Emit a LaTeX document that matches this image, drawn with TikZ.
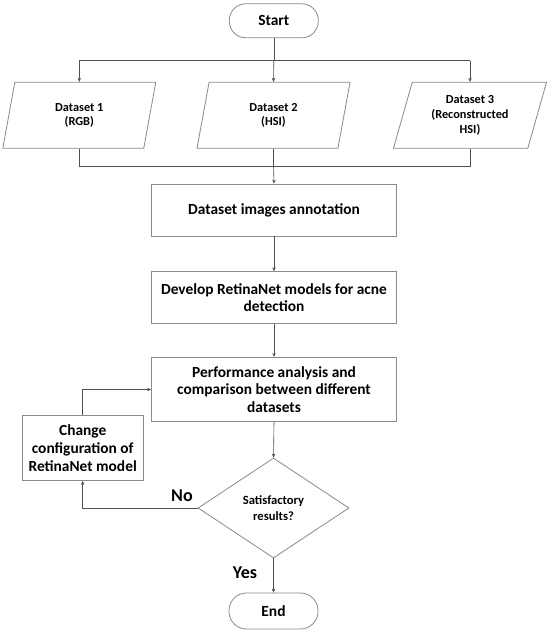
\documentclass[tikz,border=0pt]{standalone}
\usepackage{fontspec}
\setmainfont{Carlito}
\usetikzlibrary{shapes.geometric,arrows.meta}
\definecolor{boxline}{HTML}{8A8A8A}
\definecolor{conn}{HTML}{505050}
\tikzset{
  base/.style={draw=boxline,line width=0.8pt,align=center,inner sep=1pt,font=\bfseries},
  term/.style={base,rectangle,rounded corners=16.5pt,minimum width=89pt,minimum height=34pt,font=\bfseries\fontsize{15.5}{18}\selectfont},
  procbox/.style={base,rectangle,minimum width=245pt,font=\bfseries\fontsize{15.4}{17.7}\selectfont},
  databox/.style={base,trapezium,trapezium left angle=65.6,trapezium right angle=114.4,trapezium stretches body,minimum width=153pt,minimum height=66pt,font=\bfseries\fontsize{12.3}{14.7}\selectfont},
  decbox/.style={base,diamond,minimum width=151pt,minimum height=100pt,inner sep=0pt,font=\bfseries\fontsize{12.6}{15.5}\selectfont},
  conline/.style={draw=conn,line width=0.6pt},
  arr/.style={conline,-{Stealth[length=4pt,width=3.5pt]}},
  lbl/.style={font=\bfseries\fontsize{18}{20}\selectfont,inner sep=0pt}
}
\begin{document}
\begin{tikzpicture}[x=1pt,y=-1pt]
\path[use as bounding box,fill=white] (0,0) rectangle (550,632);
\node[term] (start) at (273.8,20.8) {Start};
\node[databox] (d1) at (79.3,115.3) {Dataset 1\\(RGB)};
\node[databox] (d2) at (273.5,115.3) {Dataset 2\\(HSI)};
\node[databox] (d3) at (470,115.3) {Dataset 3\\(Reconstructed\\HSI)};
\node[procbox,minimum height=52pt] (annot) at (274,210) {Dataset images annotation};
\node[procbox,minimum height=51.6pt] (dev) at (274,297.5) {Develop RetinaNet models for acne\\detection};
\node[procbox,minimum height=64.4pt] (perf) at (274,389.5) {Performance analysis and\\comparison between different\\datasets};
\node[base,rectangle,minimum width=121pt,minimum height=65pt,font=\bfseries\fontsize{15.4}{17.7}\selectfont] (chg) at (82.7,448) {Change\\configuration of\\RetinaNet model};
\node[decbox] (dec) at (273.5,508) {Satisfactory\\results?};
\node[term,minimum height=36pt,rounded corners=17.5pt] (end) at (273.5,611) {End};
\coordinate (hl) at (273.8,60.5);
\coordinate (jl) at (273.5,166);
\node[lbl] (no) at (182,496) {No};
\node[lbl] (yes) at (245,572.7) {Yes};
% fan out
\draw[conline] (start.south) -- (hl);
\draw[conline] (d1.center |- hl) -- (d3.center |- hl);
\draw[arr] (d1.center |- hl) -- (d1.center |- d1.north);
\draw[arr] (hl) -- (d2.center |- d2.north);
\draw[arr] (d3.center |- hl) -- (d3.center |- d3.north);
% fan in
\draw[conline] (d1.center |- d1.south) -- (d1.center |- jl) -- (d3.center |- jl) -- (d3.center |- d3.south);
\draw[conline] (d2.center |- d2.south) -- (jl);
\draw[arr] (jl) -- (annot.north);
\draw[arr] (annot.south) -- (dev.north);
\draw[arr] (dev.south) -- (perf.north);
\draw[arr] (perf.south) -- (dec.north);
\draw[arr] (dec.south) -- (end.north);
\draw[arr] (dec.west) -| (chg.south);
\draw[arr] (chg.north) |- (perf.west);
\end{tikzpicture}
\end{document}
